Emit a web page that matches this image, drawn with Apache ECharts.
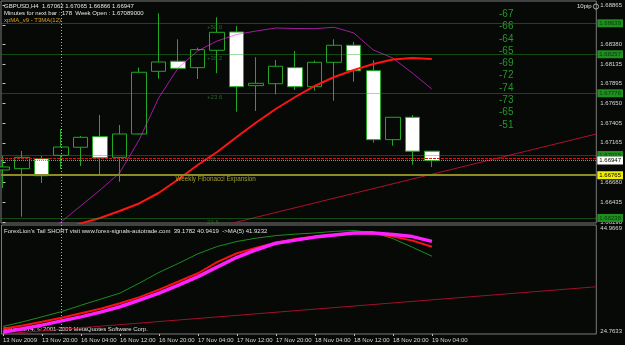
<!DOCTYPE html>
<html><head><meta charset="utf-8">
<script src="https://cdn.jsdelivr.net/npm/echarts@6/dist/echarts.min.js"></script>
<style>html,body{margin:0;padding:0;background:#060906;}#c{width:625px;height:345px;}</style>
</head><body><div id="c"></div>
<script>
// ---- data ----
const barIndex = [0,1,2,3,4,5,6,7,8,9,10,11,12,13,14,15,16,17,18,19,20,21,22];
const timeLabels = ['13 Nov 2009','13 Nov 20:00','16 Nov 04:00','16 Nov 12:00','16 Nov 20:00','17 Nov 04:00','17 Nov 12:00','17 Nov 20:00','18 Nov 04:00','18 Nov 12:00','18 Nov 20:00','19 Nov 04:00'];
const labelBars = [0,2,4,6,8,10,12,14,16,18,20,22];
const opens  = [1.66830,1.66846,1.66969,1.67011,1.67110,1.67241,1.66986,1.67274,1.68047,1.68171,1.68092,1.68306,1.68532,1.67870,1.67894,1.68092,1.67857,1.68158,1.68368,1.68055,1.67204,1.67480,1.67062];
const closes = [1.66867,1.66986,1.66759,1.67113,1.67233,1.66981,1.67274,1.68035,1.68162,1.68084,1.68314,1.68528,1.67857,1.67899,1.68109,1.67857,1.68158,1.68368,1.68055,1.67204,1.67480,1.67062,1.66947];
const lows   = [1.66608,1.66254,1.66669,1.66842,1.66879,1.66759,1.66685,1.67268,1.67956,1.68084,1.67952,1.68023,1.67549,1.67558,1.67763,1.67817,1.67808,1.67685,1.67919,1.67167,1.67130,1.66895,1.66866];
const highs  = [1.67002,1.67064,1.67002,1.67336,1.67249,1.67508,1.67385,1.68092,1.68763,1.68442,1.68338,1.68713,1.68606,1.68220,1.68187,1.68298,1.68178,1.68442,1.68409,1.68183,1.67480,1.67508,1.67065];
const xpma   = [null,null,1.65991,1.66188,1.66386,1.66583,1.66793,1.67200,1.67718,1.68088,1.68298,1.68421,1.68501,1.68544,1.68581,1.68575,1.68573,1.68590,1.68520,1.68310,1.68211,1.68026,1.67829];
const t3ma   = [null,null,null,1.66090,1.66170,1.66238,1.66324,1.66417,1.66546,1.66713,1.66891,1.67052,1.67237,1.67416,1.67582,1.67730,1.67866,1.67977,1.68063,1.68137,1.68193,1.68211,1.68199];
const priceTicks = [1.68865,1.68620,1.68380,1.68135,1.67895,1.67650,1.67405,1.67165,1.66920,1.66680,1.66435,1.66190];
const fibLevels = [1.68639,1.68257,1.67776,1.67015,1.66238];
const fibNames  = ['+50.0','+38.2','+23.6','0.0','23.6'];
const redLevel = 1.66974;
const bidPrice = 1.66947;
const weeklyLevel = 1.66765;
const weekStartBar = 3;
const pipDiffs = [-67,-66,-64,-65,-69,-72,-74,-73,-65,-51];
const trendMain = [[11.8,1.66176],[30.43,1.67274]];
const tailGreen = [26.167,27.008,27.944,28.916,30.095,31.217,32.340,34.210,36.175,37.858,39.636,41.001,41.918,42.535,43.003,43.283,43.489,43.788,43.938,43.564,42.442,40.851,39.1782];
const tailRed   = [25.736,26.354,27.046,27.757,28.598,29.440,30.469,31.591,32.995,34.491,36.025,38.139,39.729,40.758,41.693,42.385,42.816,43.152,43.470,43.377,42.816,42.067,40.9419];
const tailMA    = [25.100,25.736,26.410,27.195,27.944,28.823,29.814,31.030,32.340,33.836,35.389,37.204,38.981,40.384,41.600,42.161,42.722,43.096,43.470,43.508,43.227,42.816,41.9232];
const trendSub = [[-0.03,24.7633],[30.43,33.518]];
const subTicks = [24.7633,44.9669];

// ---- chart ----
const FN = "'Liberation Sans Narrow','Liberation Sans',Arial,sans-serif";
const FR = "'Liberation Sans',Arial,sans-serif";
const X_MIN = -0.076, X_MAX = 30.43;
const P_MIN = 1.66176, P_MAX = 1.68914;
const GREEN = '#22a822';
const pair = (arr) => barIndex.filter(i => arr[i] != null).map(i => [i, arr[i]]);

const fibLine = 'rgba(40,165,40,0.42)';
const boxLabel = (txt, bg, fg) => ({show: true, position: 'end', distance: 1, formatter: txt, backgroundColor: bg, color: fg, fontSize: 6, fontFamily: FN, padding: [1, 2]});
const markData = fibLevels.map(v => ({yAxis: v, lineStyle: {color: fibLine, width: 1, type: 'solid'}, label: boxLabel(v.toFixed(5), '#1f8f1f', '#0b3a0b')}));
markData.push({yAxis: redLevel, lineStyle: {color: '#e01010', width: 1, type: [3, 1]}, label: {show: false}});
markData.push({yAxis: bidPrice, lineStyle: {color: '#8a8a8a', width: 1, type: [1, 1]}, label: boxLabel(bidPrice.toFixed(5), '#ffffff', '#000000')});
markData.push({yAxis: weeklyLevel, lineStyle: {color: '#8c8c22', width: 2, type: 'solid'}, label: boxLabel(weeklyLevel.toFixed(5), '#f0f000', '#000000')});
markData.push({xAxis: weekStartBar, lineStyle: {color: '#b0b0b0', width: 1, type: [1, 2]}, label: {show: false}});

const fibTextData = fibLevels.map((v, k) => [10.48, v, fibNames[k]]);

const graphics = [];
graphics.push({type: 'text', left: 4, top: 3, style: {text: 'GBPUSD,H4  1.67062 1.67065 1.66866 1.66947', fill: '#e6e6e6', font: '6px ' + FN}});
graphics.push({type: 'text', left: 4, top: 10, style: {text: 'Minutes for next bar : 178  Week Open : 1.67089000', fill: '#e6e6e6', font: '6px ' + FN}});
graphics.push({type: 'text', left: 4, top: 17, style: {text: 'xpMA_v9 - T3MA(12)', fill: '#e0a020', font: '6px ' + FN}});
pipDiffs.forEach((d, k) => {
  graphics.push({type: 'text', left: 499, top: 14.7 + k * 12.3 - 5.5, style: {text: String(d), fill: '#27982a', font: '10px ' + FR}});
});
graphics.push({type: 'text', left: 577, top: 3.5, style: {text: '10pip', fill: '#e0e0e0', font: '6px ' + FN}});
graphics.push({type: 'circle', shape: {cx: 596, cy: 6.5, r: 2.6}, style: {fill: 'none', stroke: '#b0b0b0', lineWidth: 1}});
graphics.push({type: 'text', left: 4, top: 228, style: {text: "ForexLion's Tail SHORT visit www.forex-signals-autotrade.com  39.1782 40.9419  ->MA(5) 41.9232", fill: '#e0e0e0', font: '6px ' + FN}});
graphics.push({type: 'text', left: 4, top: 326.5, style: {text: 'FxPro MT4, \u00a9 2001-2009 MetaQuotes Software Corp.', fill: '#e0e0e0', font: '6px ' + FR}});

const option = {
  backgroundColor: '#060906',
  animation: false,
  grid: [
    {left: 1, top: 1, width: 601, height: 222, show: true, borderColor: '#7a7a7a', borderWidth: 1, backgroundColor: 'transparent'},
    {left: 1, top: 225, width: 601, height: 109, show: true, borderColor: '#7a7a7a', borderWidth: 1, backgroundColor: 'transparent'}
  ],
  xAxis: [
    {gridIndex: 0, type: 'value', min: X_MIN, max: X_MAX, show: false, splitLine: {show: false}},
    {gridIndex: 1, type: 'value', min: X_MIN, max: X_MAX, splitLine: {show: false}, axisLine: {show: false},
     axisTick: {show: true, length: 2, lineStyle: {color: '#c0c0c0'}, customValues: labelBars},
     axisLabel: {customValues: labelBars, formatter: v => timeLabels[labelBars.indexOf(v)], color: '#d8d8d8', fontSize: 6, fontFamily: FN, margin: 3, align: 'left'}}
  ],
  yAxis: [
    {gridIndex: 0, type: 'value', position: 'right', min: P_MIN, max: P_MAX, splitLine: {show: false}, axisLine: {show: false},
     axisTick: {show: true, length: 3, lineStyle: {color: '#c0c0c0'}, customValues: priceTicks},
     axisLabel: {customValues: priceTicks, formatter: v => v.toFixed(5), color: '#d8d8d8', fontSize: 6, fontFamily: FN, margin: 4}},
    {gridIndex: 1, type: 'value', position: 'right', min: subTicks[0], max: subTicks[1], splitLine: {show: false}, axisLine: {show: false},
     axisTick: {show: false},
     axisLabel: {customValues: subTicks, formatter: v => v.toFixed(4), color: '#d8d8d8', fontSize: 6, fontFamily: FN, margin: 4,
       verticalAlignMinLabel: 'bottom', verticalAlignMaxLabel: 'top'}}
  ],
  series: [
    {type: 'candlestick', xAxisIndex: 0, yAxisIndex: 0, barWidth: 15, clip: true, z: 2,
     data: barIndex.map(i => [i, opens[i], closes[i], lows[i], highs[i]]),
     encode: {x: 0, y: [1, 2, 3, 4]},
     itemStyle: {color: '#060906', color0: '#ffffff', borderColor: GREEN, borderColor0: GREEN, borderColorDoji: GREEN, borderWidth: 1}
    },
    {type: 'line', xAxisIndex: 0, yAxisIndex: 0, data: pair(xpma), symbol: 'none', lineStyle: {color: 'rgba(255,40,255,0.62)', width: 1}, z: 4,
     markLine: {silent: true, precision: 5, symbol: ['none', 'none'], animation: false, data: markData}},
    {type: 'line', xAxisIndex: 0, yAxisIndex: 0, data: pair(t3ma), symbol: 'none', lineStyle: {color: '#ff1414', width: 2}, z: 4},
    {type: 'line', xAxisIndex: 0, yAxisIndex: 0, data: trendMain, symbol: 'none', lineStyle: {color: '#b0102c', width: 1}, z: 4},
    {type: 'scatter', xAxisIndex: 0, yAxisIndex: 0, data: fibTextData, symbolSize: 0.1, silent: true, z: 5,
     label: {show: true, position: 'right', distance: 0, offset: [0, 4], formatter: p => p.data[2], color: '#2f7f2f', fontSize: 6, fontFamily: FR}},
    {type: 'scatter', xAxisIndex: 0, yAxisIndex: 0, data: [[8.86, weeklyLevel, 'Weekly Fibonacci Expansion']], symbolSize: 0.1, silent: true, z: 5,
     label: {show: true, position: 'right', distance: 0, offset: [0, 4.5], formatter: p => p.data[2], color: '#c8c030', fontSize: 6.3, fontFamily: FR}},
    {type: 'line', xAxisIndex: 1, yAxisIndex: 1, data: trendSub, symbol: 'none', lineStyle: {color: '#a0102a', width: 1}, z: 3},
    {type: 'line', xAxisIndex: 1, yAxisIndex: 1, data: pair(tailGreen), symbol: 'none', lineStyle: {color: '#1e8c1e', width: 1}, z: 4,
     markLine: {silent: true, precision: 5, symbol: ['none', 'none'], animation: false, data: [{xAxis: weekStartBar, lineStyle: {color: '#b0b0b0', width: 1, type: [1, 2]}, label: {show: false}}]}},
    {type: 'line', xAxisIndex: 1, yAxisIndex: 1, data: pair(tailRed), symbol: 'none', lineStyle: {color: '#ff1010', width: 2}, z: 5},
    {type: 'line', xAxisIndex: 1, yAxisIndex: 1, data: pair(tailMA), symbol: 'none', lineStyle: {color: '#ff20ff', width: 3.5}, z: 6}
  ],
  graphic: graphics
};
const chart = echarts.init(document.getElementById('c'));
chart.setOption(option);
</script></body></html>
